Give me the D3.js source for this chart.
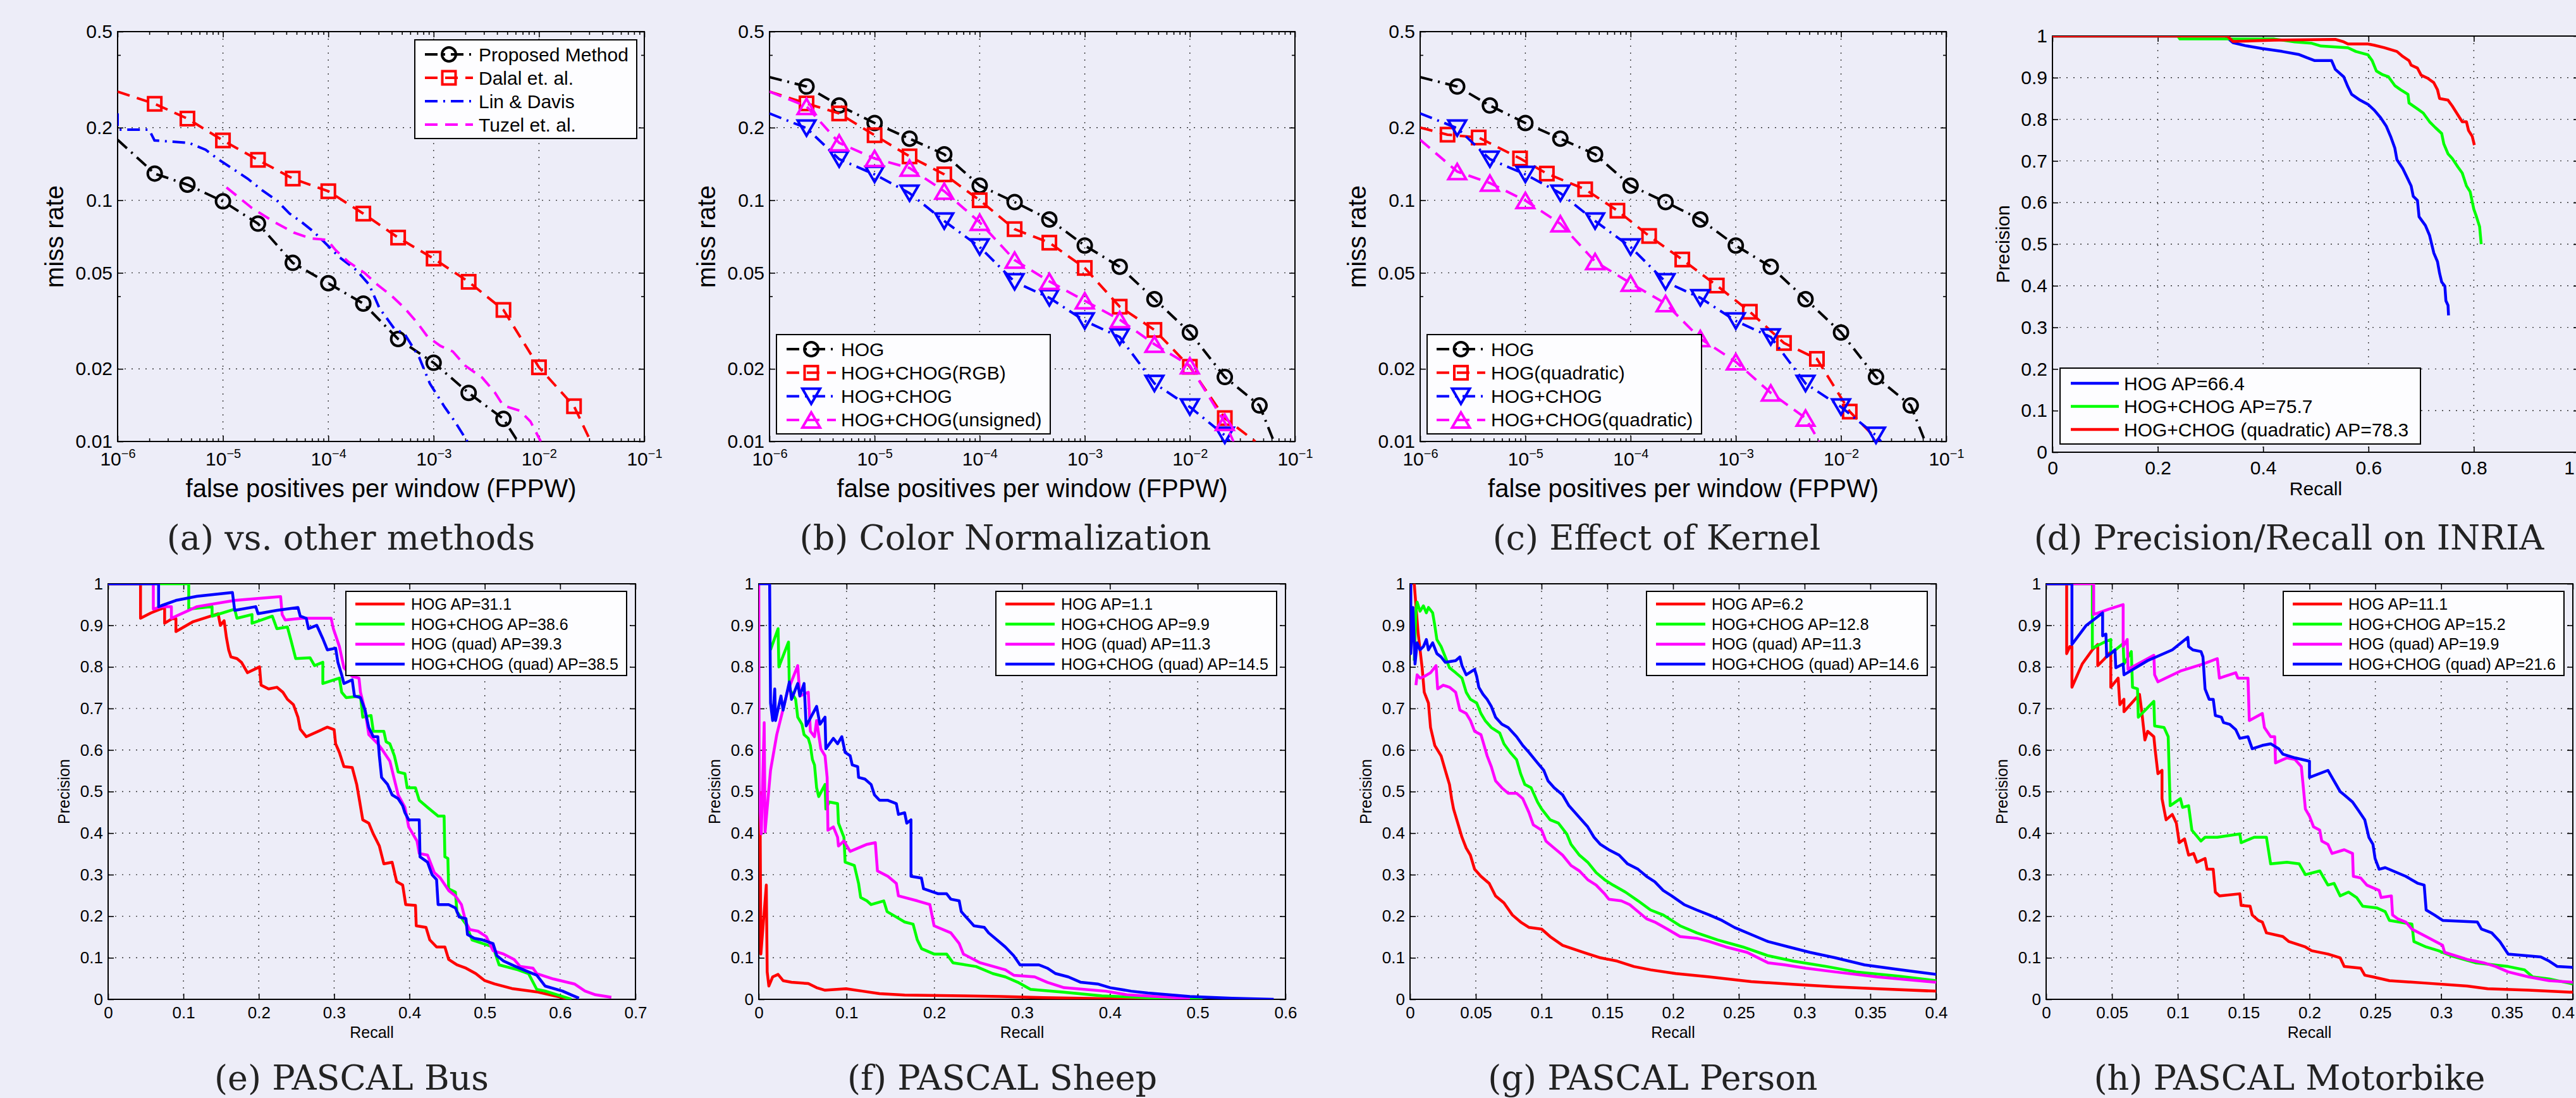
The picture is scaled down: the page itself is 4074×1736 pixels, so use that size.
<!DOCTYPE html>
<html><head><meta charset="utf-8">
<script src="https://cdn.jsdelivr.net/npm/d3@7"></script>
<style>html,body{margin:0;padding:0;background:#EDEDF8;}svg{display:block}</style>
</head><body>
<script>
// ================= DATA =================
const fppwTicks = [1e-6, 1e-5, 1e-4, 1e-3, 1e-2, 1e-1];
const missTicks = [0.01, 0.02, 0.05, 0.1, 0.2, 0.5];
const missMinor = [0.04, 0.4];

// (a) vs. other methods  [FPPW, miss rate]
const aProposed = [[1e-6,0.178],[2.25e-6,0.129],[4.6e-6,0.116],[1e-5,0.099],[2.15e-5,0.080],[4.6e-5,0.055],[1e-4,0.0453],[2.15e-4,0.0373],[4.6e-4,0.0266],[1e-3,0.0212],[2.15e-3,0.0159],[4.6e-3,0.0124],[6.3e-3,0.01]];
const aDalal = [[1e-6,0.282],[2.25e-6,0.251],[4.6e-6,0.218],[1e-5,0.177],[2.15e-5,0.147],[4.6e-5,0.123],[1e-4,0.109],[2.15e-4,0.088],[4.6e-4,0.070],[1e-3,0.0573],[2.15e-3,0.0459],[4.6e-3,0.0351],[1e-2,0.0203],[2.15e-2,0.0140],[3.1e-2,0.01]];
const aLinDavis = [[1e-6,0.229],[1e-6,0.196],[1.99e-6,0.196],[2.24e-6,0.177],[4.74e-6,0.173],[6.84e-6,0.162],[9e-6,0.148],[1.24e-5,0.135],[1.71e-5,0.123],[2.36e-5,0.110],[3.25e-5,0.0997],[4.28e-5,0.0881],[5.62e-5,0.081],[7.4e-5,0.0735],[1.02e-4,0.064],[1.28e-4,0.058],[1.85e-4,0.0513],[2.44e-4,0.0447],[3.06e-4,0.0357],[4.22e-4,0.0294],[5.3e-4,0.0279],[7.3e-4,0.0223],[9.2e-4,0.0174],[1.27e-3,0.0139],[1.59e-3,0.0121],[2.09e-3,0.01]];
const aTuzel = [[1.08e-5,0.113],[1.87e-5,0.0931],[2.96e-5,0.082],[4.69e-5,0.0735],[6.76e-5,0.0695],[9.75e-5,0.0685],[1.17e-4,0.0622],[1.54e-4,0.0557],[2.22e-4,0.0499],[2.92e-4,0.0447],[4.03e-4,0.040],[5.3e-4,0.0357],[6.98e-4,0.0311],[8.8e-4,0.0271],[1.16e-3,0.0249],[1.52e-3,0.0236],[2.0e-3,0.0206],[2.89e-3,0.0184],[3.8e-3,0.016],[4.57e-3,0.0141],[6.6e-3,0.0134],[8.3e-3,0.0121],[1.04e-2,0.01]];
const aLabels = ["Proposed Method","Dalal et. al.","Lin & Davis","Tuzel et. al."];

// (b) Color Normalization / (c) Effect of Kernel
const hogMiss = [[1e-6,0.324],[2.25e-6,0.296],[4.6e-6,0.247],[1e-5,0.209],[2.15e-5,0.180],[4.6e-5,0.155],[1e-4,0.115],[2.15e-4,0.0983],[4.6e-4,0.0832],[1e-3,0.0649],[2.15e-3,0.053],[4.6e-3,0.0389],[1e-2,0.0283],[2.15e-2,0.0185],[4.6e-2,0.0141],[6.3e-2,0.01]];
const hogChogRgbMiss = [[1e-6,0.282],[2.25e-6,0.252],[4.6e-6,0.229],[1e-5,0.186],[2.15e-5,0.152],[4.6e-5,0.128],[1e-4,0.100],[2.15e-4,0.0759],[4.6e-4,0.0667],[1e-3,0.0524],[2.15e-3,0.0362],[4.6e-3,0.029],[1e-2,0.0204],[2.15e-2,0.0125],[4.2e-2,0.01]];
const hogChogMiss = [[1e-6,0.229],[2.25e-6,0.199],[4.6e-6,0.148],[1e-5,0.128],[2.15e-5,0.107],[4.6e-5,0.082],[1e-4,0.064],[2.15e-4,0.0459],[4.6e-4,0.0394],[1e-3,0.0316],[2.15e-3,0.0271],[4.6e-3,0.0174],[1e-2,0.0139],[2.15e-2,0.0106],[2.4e-2,0.01]];
const hogChogUnsignedMiss = [[1e-6,0.282],[2.25e-6,0.245],[4.6e-6,0.173],[1e-5,0.149],[2.15e-5,0.136],[4.6e-5,0.109],[1e-4,0.081],[2.15e-4,0.0565],[4.6e-4,0.0461],[1e-3,0.0383],[2.15e-3,0.032],[4.6e-3,0.0253],[1e-2,0.0206],[2.15e-2,0.012],[2.6e-2,0.01]];
const hogQuadMiss = [[1e-6,0.200],[1.82e-6,0.187],[3.6e-6,0.182],[8.9e-6,0.149],[1.6e-5,0.129],[3.7e-5,0.111],[7.5e-5,0.0905],[1.5e-4,0.0711],[3.1e-4,0.0568],[6.6e-4,0.0443],[1.36e-3,0.0345],[2.87e-3,0.0256],[5.9e-3,0.022],[1.21e-2,0.0133],[2.3e-2,0.01]];
const hogChogQuadMiss = [[1e-6,0.178],[2.25e-6,0.1315],[4.6e-6,0.1178],[1e-5,0.0997],[2.15e-5,0.0799],[4.6e-5,0.0557],[1e-4,0.0453],[2.15e-4,0.0373],[4.6e-4,0.0267],[1e-3,0.0214],[2.15e-3,0.0159],[4.6e-3,0.0125],[6.2e-3,0.01]];
const bLabels = ["HOG","HOG+CHOG(RGB)","HOG+CHOG","HOG+CHOG(unsigned)"];
const cLabels = ["HOG","HOG(quadratic)","HOG+CHOG","HOG+CHOG(quadratic)"];

// (d) Precision/Recall on INRIA  [recall, precision]
const inriaHog = [[0,1],[0.328,1],[0.343,0.984],[0.366,0.977],[0.398,0.970],[0.436,0.963],[0.467,0.956],[0.483,0.948],[0.498,0.941],[0.530,0.941],[0.537,0.920],[0.553,0.902],[0.561,0.878],[0.568,0.860],[0.584,0.846],[0.599,0.836],[0.611,0.822],[0.623,0.804],[0.634,0.783],[0.642,0.759],[0.650,0.731],[0.654,0.703],[0.665,0.682],[0.673,0.661],[0.681,0.640],[0.685,0.615],[0.693,0.605],[0.696,0.566],[0.708,0.545],[0.716,0.521],[0.720,0.500],[0.724,0.479],[0.731,0.458],[0.735,0.430],[0.739,0.409],[0.745,0.399],[0.747,0.364],[0.751,0.353],[0.752,0.329]];
const inriaHogChog = [[0,1],[0.238,1],[0.242,0.993],[0.421,0.993],[0.460,0.986],[0.491,0.983],[0.510,0.976],[0.561,0.972],[0.576,0.963],[0.599,0.955],[0.607,0.941],[0.615,0.916],[0.627,0.907],[0.638,0.902],[0.650,0.881],[0.661,0.871],[0.675,0.860],[0.677,0.839],[0.693,0.825],[0.704,0.815],[0.716,0.794],[0.727,0.780],[0.739,0.766],[0.743,0.741],[0.751,0.717],[0.759,0.706],[0.770,0.685],[0.778,0.671],[0.786,0.640],[0.793,0.626],[0.800,0.584],[0.805,0.566],[0.811,0.542],[0.814,0.500]];
const inriaHogChogQuad = [[0,1],[0.332,1],[0.343,0.987],[0.421,0.990],[0.537,0.992],[0.553,0.986],[0.561,0.981],[0.599,0.981],[0.611,0.978],[0.630,0.972],[0.654,0.963],[0.665,0.951],[0.677,0.941],[0.681,0.930],[0.693,0.923],[0.700,0.906],[0.712,0.899],[0.724,0.888],[0.731,0.871],[0.735,0.850],[0.751,0.846],[0.759,0.832],[0.766,0.818],[0.778,0.794],[0.786,0.794],[0.790,0.773],[0.797,0.759],[0.801,0.738]];
const inriaLabels = ["HOG AP=66.4","HOG+CHOG AP=75.7","HOG+CHOG (quadratic) AP=78.3"];

// (e) PASCAL Bus
const busHog = [[0,1],[0.043,1],[0.043,0.917],[0.057,0.930],[0.075,0.943],[0.075,0.905],[0.085,0.916],[0.090,0.916],[0.090,0.885],[0.113,0.909],[0.146,0.928],[0.149,0.900],[0.154,0.911],[0.157,0.871],[0.160,0.841],[0.163,0.824],[0.171,0.820],[0.177,0.811],[0.185,0.786],[0.201,0.800],[0.203,0.756],[0.213,0.747],[0.224,0.751],[0.232,0.739],[0.238,0.722],[0.246,0.709],[0.252,0.679],[0.255,0.650],[0.263,0.632],[0.291,0.655],[0.300,0.649],[0.302,0.615],[0.307,0.594],[0.313,0.560],[0.324,0.558],[0.330,0.517],[0.334,0.475],[0.338,0.432],[0.346,0.424],[0.352,0.398],[0.360,0.369],[0.366,0.326],[0.377,0.330],[0.383,0.283],[0.391,0.275],[0.395,0.228],[0.408,0.226],[0.409,0.177],[0.422,0.173],[0.427,0.143],[0.436,0.126],[0.447,0.126],[0.452,0.096],[0.463,0.083],[0.475,0.075],[0.488,0.062],[0.500,0.045],[0.513,0.037],[0.536,0.026],[0.569,0.018],[0.591,0.009],[0.614,0]];
const busHogChog = [[0,1],[0.107,1],[0.107,0.939],[0.138,0.945],[0.138,0.922],[0.168,0.939],[0.171,0.917],[0.191,0.926],[0.191,0.905],[0.218,0.922],[0.224,0.892],[0.238,0.896],[0.243,0.862],[0.249,0.820],[0.268,0.822],[0.274,0.803],[0.285,0.811],[0.285,0.760],[0.307,0.773],[0.310,0.739],[0.316,0.726],[0.335,0.730],[0.338,0.679],[0.349,0.683],[0.352,0.645],[0.366,0.645],[0.369,0.620],[0.374,0.615],[0.380,0.586],[0.385,0.547],[0.394,0.543],[0.397,0.509],[0.408,0.509],[0.413,0.479],[0.424,0.462],[0.438,0.441],[0.446,0.441],[0.447,0.343],[0.451,0.339],[0.452,0.266],[0.461,0.258],[0.463,0.211],[0.475,0.181],[0.483,0.143],[0.511,0.126],[0.519,0.083],[0.544,0.071],[0.558,0.062],[0.569,0.024],[0.580,0.020],[0.603,0.007],[0.615,0]];
const busHogQuad = [[0,1],[0.060,1],[0.060,0.939],[0.071,0.945],[0.084,0.945],[0.084,0.917],[0.118,0.945],[0.168,0.960],[0.229,0.969],[0.231,0.926],[0.235,0.913],[0.257,0.917],[0.296,0.917],[0.299,0.892],[0.307,0.849],[0.313,0.798],[0.324,0.777],[0.333,0.773],[0.335,0.739],[0.341,0.696],[0.346,0.637],[0.358,0.615],[0.363,0.603],[0.374,0.573],[0.377,0.551],[0.385,0.492],[0.394,0.462],[0.399,0.415],[0.410,0.381],[0.413,0.351],[0.424,0.347],[0.433,0.305],[0.441,0.292],[0.452,0.262],[0.461,0.249],[0.469,0.228],[0.475,0.185],[0.480,0.168],[0.491,0.164],[0.502,0.151],[0.511,0.117],[0.525,0.109],[0.539,0.096],[0.547,0.079],[0.564,0.075],[0.569,0.062],[0.591,0.049],[0.619,0.037],[0.633,0.020],[0.647,0.011],[0.668,0.005]];
const busHogChogQuad = [[0,1],[0.067,1],[0.067,0.945],[0.090,0.960],[0.118,0.970],[0.165,0.979],[0.168,0.936],[0.196,0.945],[0.199,0.928],[0.224,0.936],[0.252,0.943],[0.255,0.922],[0.263,0.917],[0.266,0.892],[0.277,0.900],[0.285,0.868],[0.291,0.841],[0.302,0.845],[0.305,0.811],[0.310,0.781],[0.313,0.760],[0.324,0.769],[0.327,0.730],[0.335,0.726],[0.341,0.696],[0.346,0.654],[0.352,0.632],[0.358,0.632],[0.360,0.586],[0.363,0.534],[0.371,0.517],[0.377,0.492],[0.385,0.483],[0.391,0.466],[0.394,0.449],[0.399,0.432],[0.413,0.432],[0.414,0.343],[0.424,0.330],[0.430,0.300],[0.436,0.288],[0.438,0.228],[0.452,0.228],[0.461,0.220],[0.466,0.198],[0.475,0.194],[0.477,0.156],[0.486,0.147],[0.497,0.143],[0.511,0.134],[0.516,0.105],[0.525,0.092],[0.541,0.079],[0.558,0.066],[0.569,0.058],[0.580,0.032],[0.603,0.020],[0.617,0.009],[0.625,0.003]];
const busLabels = ["HOG AP=31.1","HOG+CHOG AP=38.6","HOG (quad) AP=39.3","HOG+CHOG (quad) AP=38.5"];

// (f) PASCAL Sheep
const sheepHog = [[0.0014,0.5],[0.0024,0.109],[0.0086,0.275],[0.0096,0.066],[0.0115,0.032],[0.0158,0.054],[0.022,0.060],[0.0277,0.045],[0.0373,0.041],[0.0564,0.038],[0.0659,0.028],[0.0755,0.022],[0.0994,0.0255],[0.1185,0.0196],[0.1376,0.0136],[0.1662,0.0102],[0.2331,0.0085],[0.2761,0.0068],[0.3239,0.0043],[0.3955,0.0017],[0.4911,0]];
const sheepHogChog = [[0.0134,0.841],[0.022,0.892],[0.0229,0.800],[0.0339,0.860],[0.0349,0.747],[0.042,0.722],[0.0444,0.679],[0.0492,0.662],[0.0516,0.637],[0.0564,0.628],[0.0588,0.611],[0.0611,0.577],[0.0635,0.564],[0.0659,0.509],[0.0683,0.488],[0.0755,0.517],[0.0764,0.458],[0.0803,0.475],[0.0898,0.471],[0.0908,0.424],[0.097,0.390],[0.0984,0.330],[0.1089,0.322],[0.1137,0.279],[0.1161,0.245],[0.1232,0.237],[0.128,0.228],[0.1424,0.237],[0.1462,0.211],[0.1567,0.198],[0.1662,0.186],[0.1758,0.181],[0.1806,0.143],[0.1854,0.122],[0.1997,0.109],[0.214,0.109],[0.2212,0.088],[0.2475,0.079],[0.2666,0.062],[0.2809,0.054],[0.2952,0.041],[0.3096,0.024],[0.3478,0.017],[0.3908,0.0085],[0.4672,0.0017],[0.5054,0]];
const sheepHogQuad = [[0,1],[0.0005,0.5],[0.0029,0.398],[0.0062,0.666],[0.0072,0.403],[0.0134,0.551],[0.0205,0.637],[0.0325,0.739],[0.0444,0.803],[0.0468,0.730],[0.0564,0.739],[0.0588,0.645],[0.0635,0.632],[0.0659,0.671],[0.0707,0.603],[0.0755,0.586],[0.0779,0.534],[0.0788,0.407],[0.085,0.415],[0.0898,0.390],[0.0908,0.369],[0.097,0.381],[0.1041,0.356],[0.1233,0.373],[0.1328,0.377],[0.1352,0.309],[0.1471,0.296],[0.1567,0.279],[0.1591,0.249],[0.1806,0.237],[0.1949,0.228],[0.1997,0.177],[0.2188,0.160],[0.2284,0.134],[0.2331,0.109],[0.2522,0.088],[0.2809,0.071],[0.2905,0.058],[0.3143,0.054],[0.3287,0.041],[0.3478,0.028],[0.3955,0.0196],[0.4194,0.011],[0.4672,0.005],[0.4911,0]];
const sheepHogChogQuad = [[0,1],[0.0124,1],[0.0134,0.713],[0.0158,0.671],[0.0182,0.747],[0.0191,0.671],[0.0253,0.730],[0.0277,0.696],[0.0349,0.764],[0.0373,0.722],[0.0444,0.760],[0.0468,0.730],[0.0516,0.760],[0.054,0.658],[0.0659,0.705],[0.0697,0.662],[0.0755,0.679],[0.0764,0.603],[0.085,0.628],[0.0898,0.615],[0.0946,0.632],[0.0984,0.594],[0.1041,0.586],[0.1065,0.564],[0.1127,0.560],[0.1137,0.534],[0.1209,0.530],[0.128,0.517],[0.1318,0.492],[0.1376,0.479],[0.1471,0.479],[0.1567,0.471],[0.1591,0.445],[0.1662,0.449],[0.1686,0.424],[0.1734,0.432],[0.1734,0.296],[0.1853,0.292],[0.1877,0.266],[0.2045,0.254],[0.214,0.254],[0.2188,0.241],[0.2283,0.237],[0.2307,0.211],[0.2379,0.194],[0.2451,0.177],[0.257,0.173],[0.2618,0.160],[0.2737,0.139],[0.2809,0.126],[0.2904,0.105],[0.2976,0.083],[0.3191,0.083],[0.3287,0.075],[0.3382,0.062],[0.3526,0.054],[0.3669,0.041],[0.386,0.037],[0.4003,0.028],[0.4242,0.0196],[0.4433,0.0153],[0.4911,0.0068],[0.5389,0.0026],[0.5866,0]];
const sheepLabels = ["HOG AP=1.1","HOG+CHOG AP=9.9","HOG (quad) AP=11.3","HOG+CHOG (quad) AP=14.5"];

// (g) PASCAL Person
const personHog = [[0.0032,1],[0.0061,0.883],[0.0092,0.798],[0.0108,0.739],[0.014,0.713],[0.0156,0.654],[0.0188,0.611],[0.0236,0.586],[0.0268,0.551],[0.03,0.517],[0.0316,0.483],[0.0331,0.458],[0.0363,0.424],[0.0395,0.390],[0.0427,0.364],[0.0459,0.347],[0.0491,0.313],[0.0539,0.296],[0.0602,0.279],[0.065,0.249],[0.0714,0.232],[0.0778,0.203],[0.0841,0.186],[0.0905,0.173],[0.1001,0.169],[0.1065,0.151],[0.116,0.130],[0.132,0.113],[0.1447,0.100],[0.1575,0.092],[0.1702,0.079],[0.1829,0.071],[0.2021,0.062],[0.2276,0.054],[0.2594,0.0426],[0.2913,0.036],[0.3232,0.030],[0.3551,0.0255],[0.4,0.0196]];
const personHogChog = [[0.0032,0.815],[0.0045,0.934],[0.0054,0.956],[0.0076,0.934],[0.0102,0.947],[0.0124,0.930],[0.014,0.943],[0.0172,0.930],[0.0188,0.900],[0.0204,0.866],[0.0236,0.849],[0.0268,0.824],[0.03,0.798],[0.0347,0.786],[0.0395,0.773],[0.0427,0.739],[0.0459,0.722],[0.0507,0.713],[0.0539,0.688],[0.0571,0.671],[0.0618,0.654],[0.0682,0.641],[0.0714,0.615],[0.0762,0.594],[0.081,0.577],[0.0841,0.543],[0.0873,0.517],[0.0921,0.509],[0.0969,0.475],[0.1001,0.458],[0.1065,0.432],[0.1128,0.424],[0.1192,0.398],[0.1224,0.373],[0.1288,0.347],[0.1351,0.330],[0.1415,0.305],[0.1479,0.288],[0.1543,0.275],[0.1638,0.258],[0.1734,0.237],[0.1829,0.215],[0.1925,0.203],[0.2053,0.177],[0.218,0.160],[0.2339,0.143],[0.2531,0.126],[0.2722,0.105],[0.2913,0.092],[0.3168,0.079],[0.3391,0.066],[0.371,0.056],[0.4,0.045]];
const personHogQuad = [[0.0045,0.756],[0.0054,0.781],[0.0076,0.773],[0.0108,0.777],[0.0156,0.786],[0.0198,0.803],[0.021,0.747],[0.0252,0.756],[0.03,0.751],[0.0347,0.739],[0.0379,0.696],[0.0427,0.688],[0.0459,0.671],[0.0491,0.645],[0.0539,0.637],[0.0555,0.620],[0.0586,0.586],[0.0618,0.560],[0.065,0.526],[0.0698,0.509],[0.0746,0.496],[0.081,0.496],[0.0857,0.483],[0.0905,0.449],[0.0937,0.420],[0.1001,0.407],[0.1033,0.381],[0.1096,0.364],[0.116,0.347],[0.1224,0.322],[0.1288,0.309],[0.1351,0.288],[0.1415,0.275],[0.1479,0.254],[0.1511,0.241],[0.1606,0.237],[0.167,0.228],[0.1734,0.211],[0.1798,0.194],[0.1861,0.186],[0.1957,0.169],[0.2053,0.151],[0.218,0.147],[0.2276,0.139],[0.2403,0.126],[0.2563,0.113],[0.2722,0.088],[0.2849,0.083],[0.3009,0.075],[0.3232,0.066],[0.3551,0.054],[0.4,0.041]];
const personHogChogQuad = [[0.0006,1],[0.0006,0.832],[0.0022,0.943],[0.0038,0.807],[0.0054,0.858],[0.0076,0.841],[0.0102,0.849],[0.0124,0.866],[0.014,0.841],[0.0172,0.858],[0.0204,0.832],[0.0236,0.824],[0.0268,0.811],[0.0347,0.815],[0.0379,0.824],[0.0395,0.803],[0.0427,0.781],[0.0491,0.794],[0.0507,0.777],[0.0523,0.751],[0.0555,0.734],[0.0586,0.722],[0.0618,0.705],[0.065,0.679],[0.0698,0.662],[0.0746,0.654],[0.081,0.632],[0.0857,0.611],[0.0905,0.594],[0.0969,0.569],[0.1017,0.551],[0.1049,0.526],[0.1096,0.509],[0.116,0.492],[0.1208,0.466],[0.1256,0.449],[0.1304,0.432],[0.1351,0.415],[0.1399,0.390],[0.1447,0.373],[0.1511,0.360],[0.159,0.347],[0.1654,0.326],[0.1734,0.313],[0.1798,0.296],[0.1861,0.283],[0.1925,0.262],[0.1989,0.249],[0.2084,0.228],[0.218,0.215],[0.2276,0.203],[0.2371,0.190],[0.2467,0.173],[0.2594,0.156],[0.2722,0.139],[0.2881,0.126],[0.3041,0.113],[0.3232,0.100],[0.3455,0.083],[0.371,0.072],[0.4,0.060]];
const personLabels = ["HOG AP=6.2","HOG+CHOG AP=12.8","HOG (quad) AP=11.3","HOG+CHOG (quad) AP=14.6"];

// (h) PASCAL Motorbike
const motoHog = [[0,1],[0.0156,1],[0.0156,0.832],[0.018,0.849],[0.0196,0.849],[0.0196,0.751],[0.0274,0.807],[0.0351,0.841],[0.0392,0.854],[0.0392,0.803],[0.0445,0.820],[0.0491,0.837],[0.0491,0.751],[0.0547,0.773],[0.056,0.709],[0.0591,0.722],[0.0591,0.692],[0.0709,0.734],[0.0725,0.696],[0.075,0.624],[0.0771,0.645],[0.0818,0.632],[0.0827,0.603],[0.0849,0.543],[0.088,0.551],[0.088,0.483],[0.0911,0.432],[0.0958,0.445],[0.0989,0.424],[0.1011,0.377],[0.1051,0.386],[0.1082,0.347],[0.112,0.351],[0.1145,0.330],[0.1207,0.339],[0.1222,0.313],[0.1269,0.313],[0.1285,0.258],[0.1316,0.249],[0.1471,0.254],[0.1481,0.226],[0.1549,0.224],[0.1565,0.203],[0.1611,0.190],[0.1642,0.186],[0.1673,0.160],[0.1798,0.151],[0.1844,0.139],[0.1969,0.126],[0.2016,0.117],[0.214,0.109],[0.2233,0.100],[0.2264,0.079],[0.2389,0.075],[0.242,0.058],[0.2482,0.054],[0.2607,0.045],[0.2886,0.039],[0.3198,0.032],[0.3353,0.0255],[0.3664,0.022],[0.4,0.017]];
const motoHogChog = [[0,1],[0.0351,1],[0.0351,0.845],[0.0445,0.860],[0.0491,0.866],[0.0491,0.832],[0.0585,0.856],[0.0591,0.807],[0.0647,0.837],[0.0656,0.751],[0.0694,0.747],[0.07,0.679],[0.0818,0.717],[0.0824,0.658],[0.0896,0.654],[0.0927,0.632],[0.0942,0.466],[0.102,0.483],[0.1036,0.462],[0.1082,0.466],[0.1107,0.407],[0.1176,0.381],[0.1207,0.390],[0.13,0.390],[0.1471,0.398],[0.1481,0.377],[0.158,0.390],[0.1673,0.390],[0.1705,0.326],[0.1829,0.330],[0.1922,0.326],[0.1969,0.300],[0.2078,0.309],[0.2109,0.292],[0.214,0.275],[0.2187,0.279],[0.2233,0.249],[0.2296,0.258],[0.2358,0.245],[0.2404,0.224],[0.2513,0.220],[0.2575,0.211],[0.2607,0.190],[0.2778,0.181],[0.2793,0.139],[0.2886,0.126],[0.298,0.117],[0.3073,0.105],[0.326,0.088],[0.3509,0.079],[0.3633,0.071],[0.3695,0.054],[0.382,0.049],[0.4,0.037]];
const motoHogQuad = [[0,1],[0.0361,1],[0.0361,0.926],[0.0476,0.939],[0.0585,0.950],[0.0585,0.849],[0.0616,0.866],[0.0622,0.794],[0.0818,0.828],[0.0824,0.781],[0.0849,0.764],[0.102,0.790],[0.1191,0.807],[0.13,0.820],[0.1316,0.773],[0.144,0.786],[0.1456,0.773],[0.1533,0.773],[0.1543,0.671],[0.1642,0.688],[0.1658,0.654],[0.1705,0.632],[0.1736,0.632],[0.1742,0.569],[0.1829,0.581],[0.1891,0.577],[0.1938,0.560],[0.1969,0.458],[0.2,0.441],[0.2031,0.415],[0.2078,0.407],[0.2093,0.381],[0.214,0.373],[0.2171,0.351],[0.2264,0.360],[0.2327,0.351],[0.2333,0.296],[0.2389,0.292],[0.2435,0.275],[0.2529,0.262],[0.2544,0.245],[0.2622,0.249],[0.2631,0.203],[0.2669,0.194],[0.2731,0.186],[0.2778,0.169],[0.2886,0.151],[0.3011,0.130],[0.3026,0.113],[0.3198,0.096],[0.3322,0.088],[0.3415,0.079],[0.3509,0.066],[0.3664,0.054],[0.382,0.045],[0.4,0.041]];
const motoHogChogQuad = [[0,1],[0.0196,1],[0.0196,0.854],[0.0305,0.900],[0.0429,0.930],[0.0429,0.875],[0.0454,0.879],[0.046,0.824],[0.0523,0.841],[0.0529,0.798],[0.0585,0.807],[0.0591,0.781],[0.0771,0.815],[0.0958,0.841],[0.1076,0.871],[0.1082,0.849],[0.1114,0.841],[0.1176,0.837],[0.1191,0.824],[0.1207,0.747],[0.1238,0.722],[0.1269,0.722],[0.1285,0.683],[0.1331,0.679],[0.1347,0.666],[0.1393,0.662],[0.144,0.649],[0.1471,0.628],[0.1533,0.632],[0.1565,0.603],[0.1642,0.611],[0.1705,0.615],[0.1767,0.603],[0.1798,0.590],[0.1891,0.581],[0.2,0.573],[0.2,0.534],[0.214,0.551],[0.2171,0.534],[0.2233,0.500],[0.2264,0.492],[0.2327,0.475],[0.2373,0.454],[0.242,0.432],[0.2451,0.390],[0.2482,0.373],[0.2498,0.339],[0.2529,0.313],[0.2575,0.317],[0.2731,0.296],[0.2824,0.279],[0.2871,0.275],[0.2886,0.215],[0.2949,0.203],[0.3011,0.190],[0.3275,0.186],[0.3306,0.169],[0.3384,0.160],[0.3446,0.139],[0.3509,0.109],[0.3757,0.102],[0.382,0.092],[0.3882,0.079],[0.4,0.077]];
const motoLabels = ["HOG AP=11.1","HOG+CHOG AP=15.2","HOG (quad) AP=19.9","HOG+CHOG (quad) AP=21.6"];

// ================= RENDER =================
const W = 4074, H = 1736;
const BG = '#EDEDF8';
const SANS = '"Liberation Sans", Arial, Helvetica, sans-serif';
const SERIF = '"DejaVu Serif", "Liberation Serif", serif';
const DASH = '20,12', DASHDOT = '20,9,3,9';
const svg = d3.select('body').append('svg').attr('width', W).attr('height', H);
svg.append('rect').attr('width', W).attr('height', H).attr('fill', BG);
const defs = svg.append('defs');
let clipId = 0;

function drawMarker(g, type, cx, cy, color) {
  let m;
  if (type === 'o') m = g.append('circle').attr('cx', cx).attr('cy', cy).attr('r', 11);
  else if (type === 's') m = g.append('rect').attr('x', cx - 10.5).attr('y', cy - 10.5).attr('width', 21).attr('height', 21);
  else if (type === 'v') m = g.append('path').attr('d', `M${cx},${cy + 12}L${cx + 14},${cy - 12}L${cx - 14},${cy - 12}Z`);
  else if (type === '^') m = g.append('path').attr('d', `M${cx},${cy - 12}L${cx + 14},${cy + 12}L${cx - 14},${cy + 12}Z`);
  if (m) m.attr('fill', 'none').attr('stroke', color).attr('stroke-width', 4);
}

function styleAxis(sel, fs) {
  sel.select('.domain').remove();
  sel.attr('font-family', SANS).attr('font-size', fs);
  sel.selectAll('.tick line').attr('stroke', '#000').attr('stroke-width', 1.6);
  sel.selectAll('.tick text').attr('fill', '#000');
}

// keep tick labels that would run past the right page edge inside it
function keepInside(axisSel, tx) {
  axisSel.selectAll('.tick').each(function () {
    const tick = d3.select(this), t = tick.select('text');
    if (t.empty() || !t.text()) return;
    const m = /translate\(([-\d.]+)/.exec(tick.attr('transform'));
    const cx = tx + (m ? +m[1] : 0);
    const w = t.node().getComputedTextLength();
    if (cx + w / 2 > W - 2) t.attr('text-anchor', 'end').attr('x', W - 2 - cx);
  });
}

function frame(g, p, xs, ys, xt, yt, xFmt, yFmt, fs, pad, minorX, minorY) {
  const grid = g.append('g').attr('stroke', '#333').attr('stroke-width', 1.4).attr('stroke-dasharray', '2,9');
  xt.slice(1, -1).forEach(v => grid.append('line').attr('x1', xs(v)).attr('x2', xs(v)).attr('y1', p.top).attr('y2', p.bottom));
  yt.slice(1, -1).forEach(v => grid.append('line').attr('y1', ys(v)).attr('y2', ys(v)).attr('x1', p.left).attr('x2', p.right));
  const add = (gen, tx, ty) => { const a = g.append('g').attr('transform', `translate(${tx},${ty})`).call(gen); styleAxis(a, fs); return a; };
  const bx = add(d3.axisBottom(xs).tickValues(xt).tickSizeInner(-9).tickSizeOuter(0).tickPadding(pad.x).tickFormat(xFmt), 0, p.bottom);
  add(d3.axisTop(xs).tickValues(xt).tickSizeInner(-9).tickSizeOuter(0).tickFormat(''), 0, p.top);
  add(d3.axisLeft(ys).tickValues(yt).tickSizeInner(-9).tickSizeOuter(0).tickPadding(pad.y).tickFormat(yFmt), p.left, 0);
  add(d3.axisRight(ys).tickValues(yt).tickSizeInner(-9).tickSizeOuter(0).tickFormat(''), p.right, 0);
  if (minorX) {
    add(d3.axisBottom(xs).tickValues(minorX).tickSizeInner(-5).tickSizeOuter(0).tickFormat(''), 0, p.bottom);
    add(d3.axisTop(xs).tickValues(minorX).tickSizeInner(-5).tickSizeOuter(0).tickFormat(''), 0, p.top);
  }
  if (minorY) {
    add(d3.axisLeft(ys).tickValues(minorY).tickSizeInner(-5).tickSizeOuter(0).tickFormat(''), p.left, 0);
    add(d3.axisRight(ys).tickValues(minorY).tickSizeInner(-5).tickSizeOuter(0).tickFormat(''), p.right, 0);
  }
  g.append('rect').attr('x', p.left).attr('y', p.top).attr('width', p.right - p.left).attr('height', p.bottom - p.top)
    .attr('fill', 'none').attr('stroke', '#000').attr('stroke-width', 2);
  return bx;
}

function clipFor(p) {
  const id = 'clip' + (clipId++);
  defs.append('clipPath').attr('id', id).append('rect').attr('x', p.left).attr('y', p.top)
    .attr('width', p.right - p.left).attr('height', p.bottom - p.top);
  return `url(#${id})`;
}

function caption(c) {
  svg.append('text').attr('x', c.x).attr('y', c.y).attr('text-anchor', 'middle')
    .attr('font-family', SERIF).attr('font-size', 54).attr('fill', '#222').text(c.text);
}

function legend(g, L, series, fs, sw) {
  g.append('rect').attr('x', L.x).attr('y', L.y).attr('width', L.w).attr('height', L.h)
    .attr('fill', '#FDFDFF').attr('stroke', '#000').attr('stroke-width', 2);
  series.forEach((s, i) => {
    const cy = L.y + L.first + i * L.step;
    g.append('line').attr('x1', L.x + L.l0).attr('x2', L.x + L.l1).attr('y1', cy).attr('y2', cy)
      .attr('stroke', s.color).attr('stroke-width', sw).attr('stroke-dasharray', s.dash || null);
    if (s.marker) drawMarker(g, s.marker, L.x + (L.l0 + L.l1) / 2, cy, s.color);
    g.append('text').attr('x', L.x + L.t).attr('y', cy).attr('dominant-baseline', 'central')
      .attr('font-family', SANS).attr('font-size', fs).attr('fill', '#000').text(s.label);
  });
}

function logPanel(p) {
  const g = svg.append('g');
  const xs = d3.scaleLog().domain([1e-6, 1e-1]).range([p.left, p.right]);
  const ys = d3.scaleLog().domain([0.01, 0.5]).range([p.bottom, p.top]);
  const minorX = [];
  for (let k = -6; k <= -2; k++) for (let m = 2; m <= 9; m++) minorX.push(m * Math.pow(10, k));
  const bx = frame(g, p, xs, ys, fppwTicks, missTicks, () => '', d => String(d), 30, { x: 17, y: 8 }, minorX, missMinor);
  bx.selectAll('.tick text').each(function (d) {
    const t = d3.select(this); t.text(null);
    t.append('tspan').text('10');
    t.append('tspan').attr('font-size', 20).attr('dy', '-0.6em').text('\u2212' + Math.round(-Math.log10(d)));
  });
  const clip = clipFor(p);
  const line = d3.line().x(d => xs(d[0])).y(d => ys(d[1]));
  p.series.forEach(s => {
    g.append('path').attr('d', line(s.data)).attr('fill', 'none').attr('stroke', s.color)
      .attr('stroke-width', 4).attr('stroke-dasharray', s.dash).attr('clip-path', clip);
    if (s.marker) s.data.slice(1, -1).forEach(d => drawMarker(g, s.marker, xs(d[0]), ys(d[1]), s.color));
  });
  g.append('text').attr('transform', `translate(${p.left - 100},${(p.top + p.bottom) / 2}) rotate(-90)`)
    .attr('text-anchor', 'middle').attr('dominant-baseline', 'central').attr('font-family', SANS).attr('font-size', 40).text('miss rate');
  g.append('text').attr('x', (p.left + p.right) / 2).attr('y', p.bottom + 88).attr('text-anchor', 'middle')
    .attr('font-family', SANS).attr('font-size', 40).text('false positives per window (FPPW)');
  legend(g, p.legend, p.series, 30, 4);
  caption(p.caption);
}

function prPanel(p) {
  const g = svg.append('g');
  const xs = d3.scaleLinear().domain([0, p.xmax]).range([p.left, p.right]);
  const ys = d3.scaleLinear().domain([0, 1]).range([p.bottom, p.top]);
  const nx = Math.round(p.xmax / p.xstep);
  const xt = d3.range(nx + 1).map(i => +(i * p.xstep).toFixed(3));
  const yt = d3.range(11).map(i => +(i * 0.1).toFixed(1));
  const fmt = d3.format('~g');
  const bx = frame(g, p, xs, ys, xt, yt, fmt, fmt, p.fs, { x: p.padX, y: 8 }, null, null);
  keepInside(bx, 0);
  const clip = clipFor(p);
  const line = d3.line().x(d => xs(d[0])).y(d => ys(d[1]));
  p.series.forEach(s => {
    g.append('path').attr('d', line(s.data)).attr('fill', 'none').attr('stroke', s.color)
      .attr('stroke-width', 4.5).attr('stroke-linejoin', 'round').attr('clip-path', clip);
  });
  g.append('text').attr('transform', `translate(${p.left - p.yLabOff},${(p.top + p.bottom) / 2}) rotate(-90)`)
    .attr('text-anchor', 'middle').attr('dominant-baseline', 'central').attr('font-family', SANS).attr('font-size', p.lfs).text('Precision');
  g.append('text').attr('x', (p.left + p.right) / 2).attr('y', p.bottom + p.xLabOff).attr('text-anchor', 'middle')
    .attr('font-family', SANS).attr('font-size', p.lfs).text('Recall');
  legend(g, p.legend, p.series, p.lfs, 4.5);
  caption(p.caption);
}

const K = '#000', R = '#FF0000', B = '#0000FF', M = '#FF00FF', G = '#00FF00';

// ---- top row ----
logPanel({ left: 186, right: 1019, top: 50, bottom: 698,
  series: [
    { data: aProposed, color: K, dash: DASHDOT, marker: 'o', label: aLabels[0] },
    { data: aDalal, color: R, dash: DASH, marker: 's', label: aLabels[1] },
    { data: aLinDavis, color: B, dash: DASHDOT, marker: null, label: aLabels[2] },
    { data: aTuzel, color: M, dash: DASH, marker: null, label: aLabels[3] }],
  legend: { x: 656, y: 63, w: 351, h: 156, first: 23, step: 37, l0: 16, l1: 92, t: 101 },
  caption: { x: 555, y: 869, text: '(a) vs. other methods' } });

logPanel({ left: 1217, right: 2048, top: 50, bottom: 698,
  series: [
    { data: hogMiss, color: K, dash: DASHDOT, marker: 'o', label: bLabels[0] },
    { data: hogChogRgbMiss, color: R, dash: DASH, marker: 's', label: bLabels[1] },
    { data: hogChogMiss, color: B, dash: DASHDOT, marker: 'v', label: bLabels[2] },
    { data: hogChogUnsignedMiss, color: M, dash: DASH, marker: '^', label: bLabels[3] }],
  legend: { x: 1228, y: 529, w: 433, h: 157, first: 23, step: 37.3, l0: 16, l1: 94, t: 102 },
  caption: { x: 1590, y: 869, text: '(b) Color Normalization' } });

logPanel({ left: 2246, right: 3078, top: 50, bottom: 698,
  series: [
    { data: hogMiss, color: K, dash: DASHDOT, marker: 'o', label: cLabels[0] },
    { data: hogQuadMiss, color: R, dash: DASH, marker: 's', label: cLabels[1] },
    { data: hogChogMiss, color: B, dash: DASHDOT, marker: 'v', label: cLabels[2] },
    { data: hogChogQuadMiss, color: M, dash: DASH, marker: '^', label: cLabels[3] }],
  legend: { x: 2257, y: 529, w: 434, h: 157, first: 23, step: 37.3, l0: 15, l1: 92, t: 101 },
  caption: { x: 2620, y: 869, text: '(c) Effect of Kernel' } });

prPanel({ left: 3246, right: 4079, top: 57, bottom: 715, xmax: 1, xstep: 0.2, fs: 30, lfs: 30, padX: 14, yLabOff: 79, xLabOff: 68,
  series: [
    { data: inriaHog, color: B, label: inriaLabels[0] },
    { data: inriaHogChog, color: G, label: inriaLabels[1] },
    { data: inriaHogChogQuad, color: R, label: inriaLabels[2] }],
  legend: { x: 3258, y: 582, w: 570, h: 120, first: 24, step: 36.5, l0: 17, l1: 93, t: 101 },
  caption: { x: 3620, y: 869, text: '(d) Precision/Recall on INRIA' } });

// ---- bottom row ----
const bottomLegend = (right) => ({ x: right - 14 - 444, y: 935, w: 444, h: 133, first: 20, step: 31.7, l0: 15, l1: 93, t: 103 });
const prSeries = (d, labels) => [
  { data: d[0], color: R, label: labels[0] },
  { data: d[1], color: G, label: labels[1] },
  { data: d[2], color: M, label: labels[2] },
  { data: d[3], color: B, label: labels[3] }];
const bot = { top: 923, bottom: 1580, fs: 26, lfs: 25, padX: 12, yLabOff: 70, xLabOff: 61 };

prPanel(Object.assign({}, bot, { left: 171, right: 1005, xmax: 0.7, xstep: 0.1,
  series: prSeries([busHog, busHogChog, busHogQuad, busHogChogQuad], busLabels),
  legend: bottomLegend(1005), caption: { x: 556, y: 1723, text: '(e) PASCAL Bus' } }));
prPanel(Object.assign({}, bot, { left: 1200, right: 2033, xmax: 0.6, xstep: 0.1,
  series: prSeries([sheepHog, sheepHogChog, sheepHogQuad, sheepHogChogQuad], sheepLabels),
  legend: bottomLegend(2033), caption: { x: 1585, y: 1723, text: '(f) PASCAL Sheep' } }));
prPanel(Object.assign({}, bot, { left: 2230, right: 3062, xmax: 0.4, xstep: 0.05,
  series: prSeries([personHog, personHogChog, personHogQuad, personHogChogQuad], personLabels),
  legend: bottomLegend(3062), caption: { x: 2614, y: 1723, text: '(g) PASCAL Person' } }));
prPanel(Object.assign({}, bot, { left: 3236, right: 4069, xmax: 0.4, xstep: 0.05,
  series: prSeries([motoHog, motoHogChog, motoHogQuad, motoHogChogQuad], motoLabels),
  legend: bottomLegend(4069), caption: { x: 3621, y: 1723, text: '(h) PASCAL Motorbike' } }));
</script>
</body></html>
